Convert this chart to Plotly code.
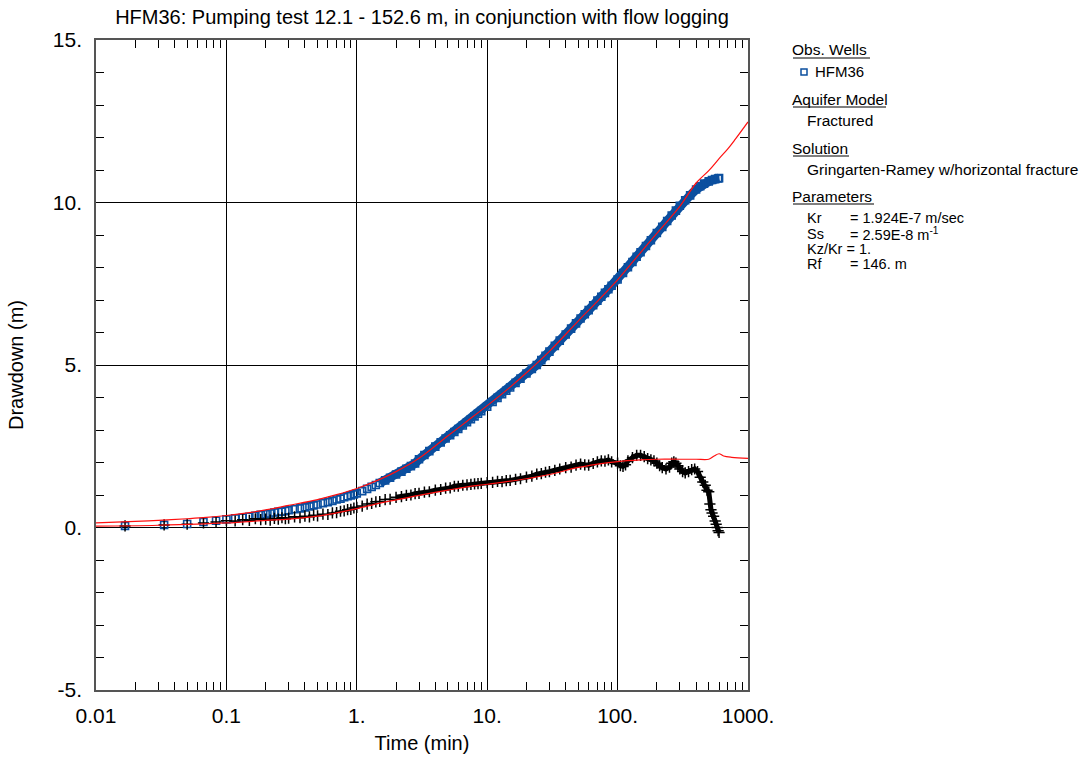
import plotly.graph_objects as go

# ---------------- data ----------------
obs_t = [0.0167, 0.0333, 0.05, 0.0667, 0.0833, 0.1, 0.1167, 0.1333, 0.15, 0.1667, 0.1833, 0.2,
         0.2167, 0.2333, 0.25, 0.2667, 0.2833, 0.3, 0.3333, 0.3667, 0.4, 0.4333, 0.4667, 0.5,
         0.55, 0.6, 0.65, 0.7, 0.75, 0.8, 0.85, 0.9, 0.95, 1.0, 1.1, 1.2, 1.3, 1.4, 1.5, 1.65,
         1.8, 2.0, 2.2, 2.4, 2.6, 2.8, 3.0, 3.3, 3.6, 4.0, 4.4, 4.8, 5.2, 5.6, 6.0, 6.5, 7.0,
         7.5, 8.0, 8.5, 9.0, 10, 11, 12, 13, 14, 15, 16.5, 18, 20, 22, 24, 26, 28, 30, 33, 36,
         40, 44, 48, 52, 56, 60, 65, 70, 75, 80, 85, 90, 100, 110, 120, 130, 140, 150, 165, 180,
         200, 220, 240, 260, 280, 300, 330, 360, 400, 430, 460, 500, 530, 560, 590, 600]
obs_s = [0.05, 0.08, 0.11, 0.17, 0.21, 0.25, 0.28, 0.30, 0.33, 0.36, 0.39, 0.41,
         0.43, 0.46, 0.48, 0.49, 0.51, 0.53, 0.56, 0.59, 0.62, 0.65, 0.68, 0.71,
         0.75, 0.78, 0.82, 0.86, 0.89, 0.93, 0.96, 0.99, 1.02, 1.05, 1.12, 1.19, 1.25, 1.31, 1.37, 1.45,
         1.53, 1.63, 1.72, 1.81, 1.89, 1.97, 2.10, 2.23, 2.35, 2.49, 2.62, 2.74, 2.84, 2.94, 3.03, 3.14, 3.24,
         3.33, 3.42, 3.50, 3.58, 3.72, 3.86, 3.99, 4.10, 4.21, 4.31, 4.45, 4.58, 4.74, 4.88, 5.00, 5.15, 5.28, 5.41, 5.59, 5.75,
         5.94, 6.12, 6.28, 6.43, 6.56, 6.69, 6.84, 6.98, 7.10, 7.22, 7.33, 7.44, 7.63, 7.83, 8.01, 8.17, 8.33, 8.47, 8.66, 8.84,
         9.06, 9.25, 9.43, 9.60, 9.75, 9.90, 10.07, 10.22, 10.40, 10.50, 10.58, 10.65, 10.69, 10.72, 10.74, 10.75]

deriv_t = [0.0167, 0.0333, 0.05, 0.0667, 0.0833, 0.1, 0.1167, 0.1333, 0.15, 0.1667, 0.1833, 0.2,
           0.2167, 0.2333, 0.25, 0.2667, 0.2833, 0.3, 0.3333, 0.3667, 0.4, 0.4333, 0.4667, 0.5,
           0.55, 0.6, 0.65, 0.7, 0.75, 0.8, 0.85, 0.9, 0.95, 1.0, 1.1, 1.2, 1.3, 1.4, 1.5, 1.65,
           1.8, 2.0, 2.2, 2.4, 2.6, 2.8, 3.0, 3.3, 3.6, 4.0, 4.4, 4.8, 5.2, 5.6, 6.0, 6.5, 7.0,
           7.5, 8.0, 8.5, 9.0, 10, 11, 12, 13, 14, 15, 16.5, 18, 20, 22, 24, 26, 28, 30, 33, 36,
           40, 44, 48, 52, 56, 60, 65, 70, 75, 80, 85, 90, 100, 105, 110, 115, 120, 130, 140, 150,
           160, 170, 180, 190, 200, 210, 220, 235, 250, 260, 270, 280, 290, 300, 315, 330, 350,
           370, 390, 410, 430, 450, 470, 485, 500, 510, 520, 530, 545, 560, 570, 580, 590, 600]
deriv_s = [0.05, 0.08, 0.10, 0.14, 0.17, 0.21, 0.20, 0.24, 0.22, 0.27, 0.24, 0.26,
           0.23, 0.28, 0.26, 0.30, 0.27, 0.29, 0.33, 0.30, 0.35, 0.33, 0.38, 0.36,
           0.41, 0.40, 0.45, 0.46, 0.50, 0.51, 0.55, 0.56, 0.60, 0.62, 0.66, 0.72, 0.74, 0.79, 0.80, 0.86,
           0.87, 0.93, 0.95, 0.99, 1.00, 1.04, 1.05, 1.09, 1.10, 1.15, 1.17, 1.21, 1.22, 1.27, 1.27, 1.30, 1.31,
           1.33, 1.34, 1.35, 1.36, 1.38, 1.39, 1.42, 1.41, 1.44, 1.45, 1.48, 1.50, 1.55, 1.58, 1.64, 1.66, 1.70, 1.72, 1.76, 1.80,
           1.84, 1.86, 1.92, 1.95, 1.93, 1.92, 1.97, 2.02, 2.05, 2.04, 2.08, 2.02, 1.98, 1.90, 1.88, 1.93, 2.05, 2.15, 2.22, 2.22,
           2.18, 2.12, 2.08, 2.05, 1.98, 1.90, 1.84, 1.80, 1.86, 1.98, 2.02, 1.98, 1.90, 1.80, 1.72, 1.68, 1.72,
           1.78, 1.80, 1.72, 1.55, 1.40, 1.30, 1.15, 1.10, 0.72, 0.55, 0.45, 0.35, 0.20, 0.10, 0.00, -0.10, -0.15]

model_t = [0.01, 0.02, 0.03, 0.05, 0.07, 0.1, 0.15, 0.2, 0.3, 0.5, 0.7, 1, 1.5, 2, 3, 5, 7, 10, 15, 20,
           30, 50, 70, 100, 150, 200, 300, 400, 500, 600, 700, 800, 1000]
model_s = [0.14, 0.19, 0.22, 0.27, 0.31, 0.37, 0.46, 0.54, 0.68, 0.86, 1.01, 1.20, 1.48, 1.72, 2.13, 2.82,
           3.27, 3.75, 4.32, 4.76, 5.42, 6.36, 6.96, 7.62, 8.46, 9.05, 9.88, 10.6, 10.98, 11.35, 11.65, 11.95, 12.48]

mderiv_t = [0.01, 0.03, 0.1, 0.2, 0.3, 0.5, 0.7, 1, 1.5, 2, 3, 5, 7, 10, 20, 30, 50, 70, 100, 150,
            200, 300, 400, 500, 550, 600, 650, 750, 1000]
mderiv_s = [0.04, 0.07, 0.14, 0.22, 0.26, 0.35, 0.45, 0.58, 0.75, 0.85, 0.99, 1.15, 1.25, 1.33, 1.50,
            1.63, 1.85, 1.95, 2.03, 2.08, 2.10, 2.10, 2.10, 2.10, 2.20, 2.27, 2.20, 2.16, 2.13]

x_tickvals = [0.01, 0.1, 1, 10, 100, 1000]
x_ticktext = ["0.01", "0.1", "1.", "10.", "100.", "1000."]
y_tickvals = [-5, 0, 5, 10, 15]
y_ticktext = ["-5.", "0.", "5.", "10.", "15."]

BLUE = "#0b4f9f"
RED = "#ff1010"
FONT = "Liberation Sans, Arial, sans-serif"

fig = go.Figure()

dense_t = [t for t in obs_t if t >= 1.5]
dense_s = [s for t, s in zip(obs_t, obs_s) if t >= 1.5]
fig.add_trace(go.Scatter(x=dense_t, y=dense_s, mode="lines",
                         line=dict(color=BLUE, width=9), hoverinfo="skip", showlegend=False))
fig.add_trace(go.Scatter(x=obs_t, y=obs_s, mode="markers", name="HFM36",
                         marker=dict(symbol="square-open", size=7, color=BLUE, line=dict(width=1.6, color=BLUE)),
                         showlegend=False))

ddense_t = [t for t in deriv_t if t >= 2]
ddense_s = [s for t, s in zip(deriv_t, deriv_s) if t >= 2]
fig.add_trace(go.Scatter(x=ddense_t, y=ddense_s, mode="lines",
                         line=dict(color="black", width=5), hoverinfo="skip", showlegend=False))
fig.add_trace(go.Scatter(x=deriv_t, y=deriv_s, mode="markers",
                         marker=dict(symbol="cross-thin-open", size=8, color="black", line=dict(width=1.5, color="black")),
                         showlegend=False))

fig.add_trace(go.Scatter(x=model_t, y=model_s, mode="lines", line=dict(color=RED, width=1.2, shape="spline"),
                         showlegend=False))
fig.add_trace(go.Scatter(x=mderiv_t, y=mderiv_s, mode="lines", line=dict(color=RED, width=1.2, shape="spline"),
                         showlegend=False))

# ---------------- layout ----------------
L, R, T, B = 96, 748, 40, 690
W, H = 1086, 765

def px(x, y):
    return (x - L) / (R - L), (B - y) / (B - T)

minor_x = [m * 10 ** e for e in range(-2, 3) for m in range(2, 10)]

fig.update_layout(
    width=W, height=H,
    margin=dict(l=L, r=W - R, t=T, b=H - B),
    paper_bgcolor="white", plot_bgcolor="white",
    font=dict(family=FONT, color="black"),
    title=dict(text="HFM36: Pumping test 12.1 - 152.6 m, in conjunction with flow logging",
               x=(L + R) / 2 / W, xanchor="center", y=1 - 17 / H, yanchor="middle",
               font=dict(size=20, family=FONT)),
    xaxis=dict(type="log", range=[-2, 3], tickvals=x_tickvals, ticktext=x_ticktext,
               ticks="inside", ticklen=10, tickcolor="black", ticklabelstandoff=6,
               showgrid=True, gridcolor="black", gridwidth=1,
               showline=True, linecolor="#555555", linewidth=1.5, mirror="allticks",
               tickfont=dict(size=21), zeroline=False,
               minor=dict(tickvals=minor_x, ticks="inside", ticklen=8, tickcolor="black", showgrid=False),
               title=dict(text="Time (min)", font=dict(size=20), standoff=10)),
    yaxis=dict(range=[-5, 15], tickvals=y_tickvals, ticktext=y_ticktext,
               ticks="inside", ticklen=10, tickcolor="black", ticklabelstandoff=8,
               showgrid=True, gridcolor="black", gridwidth=1,
               showline=True, linecolor="#555555", linewidth=1.5, mirror="allticks",
               tickfont=dict(size=21), zeroline=False,
               minor=dict(dtick=1, ticks="inside", ticklen=8, tickcolor="black", showgrid=False),
               title=dict(text="Drawdown (m)", font=dict(size=20), standoff=24)),
)

# ---------------- legend / info panel ----------------
annots = []
shapes = []

def text(x, y, s, size=15.5):
    xx, yy = px(x, y)
    annots.append(dict(x=xx, y=yy, xref="paper", yref="paper", text=s, showarrow=False,
                       xanchor="left", yanchor="middle", xshift=-3,
                       font=dict(size=size, family=FONT, color="black")))

def underline(x0, x1, y):
    a, b = px(x0, y)
    c, _ = px(x1, y)
    shapes.append(dict(type="line", xref="paper", yref="paper", x0=a, x1=c, y0=b, y1=b,
                       line=dict(color="black", width=1)))

text(793, 50, "Obs. Wells")
underline(793, 870, 58)
text(816, 72, "HFM36", 15)
a0, b0 = px(801, 69)
a1, b1 = px(807, 75)
shapes.append(dict(type="rect", xref="paper", yref="paper", x0=a0, x1=a1, y0=b1, y1=b0,
                   line=dict(color=BLUE, width=1.5), fillcolor="white"))
text(793, 99, "Aquifer Model")
underline(793, 886, 107)
text(808, 121, "Fractured", 15.5)
text(793, 148, "Solution")
underline(793, 849, 156)
text(808, 170, "Gringarten-Ramey w/horizontal fracture", 15.5)
text(793, 196, "Parameters")
underline(793, 874, 204)
text(808, 218, "Kr", 14.5)
text(851, 218, "= 1.924E-7 m/sec", 14.5)
text(808, 234, "Ss", 14.5)
text(851, 234, "= 2.59E-8 m<sup>-1</sup>", 14.5)
text(808, 249, "Kz/Kr = 1.", 14.5)
text(808, 264, "Rf", 14.5)
text(851, 264, "= 146. m", 14.5)

fig.update_layout(annotations=annots, shapes=shapes)

fig.write_html("out.html")
